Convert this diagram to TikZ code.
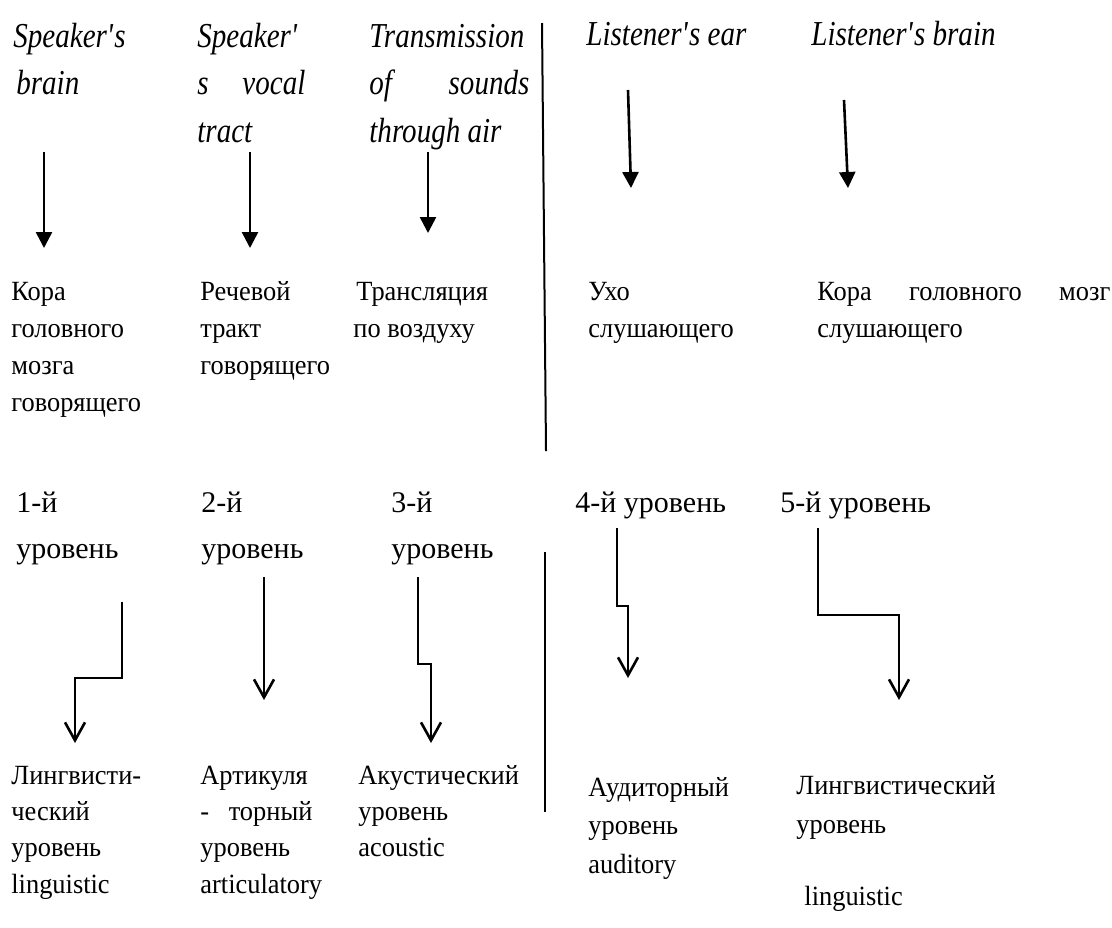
\documentclass[tikz,border=0pt]{standalone}
\usepackage{fontspec}
\setmainfont{Liberation Serif}[FakeStretch=0.95]
\newfontfamily\engit{Liberation Serif}[FakeStretch=0.83]
\newfontfamily\lvlfont{Liberation Serif}
\usetikzlibrary{arrows.meta}

\tikzset{
    engtxt/.style={anchor=base west, inner sep=0pt, align=left,
        font=\engit\itshape\fontsize{17.5}{23.75}\selectfont},
    rutxt/.style={anchor=base west, inner sep=0pt, align=left,
        font=\fontsize{13.9}{#1}\selectfont},
    rutxt/.default=18.65,
    lvltxt/.style={anchor=base west, inner sep=0pt, align=left,
        font=\lvlfont\fontsize{15}{23}\selectfont},
    downarrow/.style={line width=1.3pt, -{Triangle[length=8pt,width=8pt]}},
    steparrow/.style={line width=1.3pt, -{Straight Barb[length=9pt,width=10pt]}},
    divider/.style={line width=1pt}
}

\begin{document}
\begin{tikzpicture}[x=0.5pt, y=-0.5pt]
\useasboundingbox (0,0) rectangle (1112,927);

% Top row: who does what (nodes sit on the baseline of their last line)
\node[engtxt] (spbrain) at (13,94.5) {Speaker\textquotesingle s\\\hspace*{1.5pt}brain};
\node[engtxt] (sptract) at (197,142) {Speaker\textquotesingle\\\makebox[54pt][s]{s vocal}\\tract};
\node[engtxt] (transair) at (369,142) {Transmission\\\makebox[80pt][s]{of sounds}\\through air};
\node[engtxt] (lsear) at (586,45) {Listener\textquotesingle s ear};
\node[engtxt] (lsbrain) at (811,45) {Listener\textquotesingle s brain};

% Top arrows
\coordinate (ta1s) at (44,152);  \coordinate (ta1e) at (44,248);
\coordinate (ta2s) at (250,152); \coordinate (ta2e) at (250,248);
\coordinate (ta3s) at (428,152); \coordinate (ta3e) at (428,233);
\coordinate (ta4s) at (628,90);  \coordinate (ta4e) at (631,188);
\coordinate (ta5s) at (844,100); \coordinate (ta5e) at (848,188);
\draw[downarrow] (ta1s) -- (ta1e);
\draw[downarrow] (ta2s) -- (ta2e);
\draw[downarrow] (ta3s) -- (ta3e);
\draw[downarrow] (ta4s) -- (ta4e);
\draw[downarrow] (ta5s) -- (ta5e);

% Middle row: organs
\node[rutxt] (cortex) at (11,411.9) {Кора\\головного\\мозга\\говорящего};
\node[rutxt] (tract) at (200,374.6) {Речевой\\тракт\\говорящего};
\node[rutxt] (air) at (353,337.3) {\hspace*{1.5pt}Трансляция\\по воздуху};
\node[rutxt] (ear) at (588,337.3) {Ухо\\слушающего};
\node[rutxt] (lcortex) at (817,337.3) {\makebox[146.5pt][s]{Кора головного мозг}\\слушающего};

% Divider between speaker and listener
\coordinate (dv1s) at (542,23);  \coordinate (dv1e) at (546,451);
\coordinate (dv2s) at (545,552); \coordinate (dv2e) at (545,812);
\draw[divider] (dv1s) -- (dv1e);
\draw[divider] (dv2s) -- (dv2e);

% Levels
\node[lvltxt] (lvl1) at (16,558) {1-й\\уровень};
\node[lvltxt] (lvl2) at (201,558) {2-й\\уровень};
\node[lvltxt] (lvl3) at (391,558) {3-й\\уровень};
\node[lvltxt] (lvl4) at (575,512) {4-й уровень};
\node[lvltxt] (lvl5) at (780,512) {5-й уровень};

% Lower arrows
\coordinate (la1s) at (122,602); \coordinate (la1m) at (75,678);  \coordinate (la1e) at (75,743);
\coordinate (la2s) at (264,577); \coordinate (la2e) at (264,700);
\coordinate (la3s) at (418,577); \coordinate (la3m) at (431,664); \coordinate (la3e) at (431,743);
\coordinate (la4s) at (617,528); \coordinate (la4m) at (628,606); \coordinate (la4e) at (628,678);
\coordinate (la5s) at (818,528); \coordinate (la5m) at (899,615); \coordinate (la5e) at (899,700);
\draw[steparrow] (la1s) |- (la1m) -- (la1e);
\draw[steparrow] (la2s) -- (la2e);
\draw[steparrow] (la3s) |- (la3m) -- (la3e);
\draw[steparrow] (la4s) |- (la4m) -- (la4e);
\draw[steparrow] (la5s) |- (la5m) -- (la5e);

% Bottom row: level names
\node[rutxt=18.2] (ling) at (11,893.2) {Лингвисти-\\ческий\\уровень\\linguistic};
\node[rutxt=18.2] (artic) at (200,893.2) {Артикуля\\\makebox[56pt][s]{- торный}\\уровень\\articulatory};
\node[rutxt=18.2] (acoust) at (358,856.8) {Акустический\\уровень\\acoustic};
\node[rutxt=19.25] (audit) at (588,873) {Аудиторный\\уровень\\auditory};
\node[rutxt=19.25] (lling) at (796,905) {Лингвистический\\уровень\\[16.75pt]\hspace*{4pt}linguistic};
\end{tikzpicture}
\end{document}
